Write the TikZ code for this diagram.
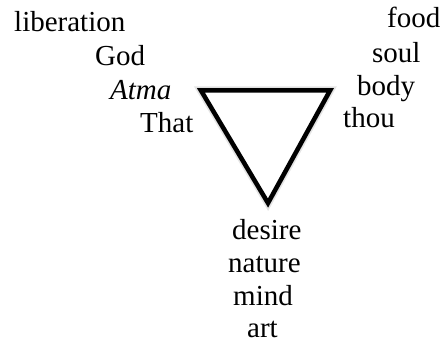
\documentclass[tikz,border=0pt]{standalone}
\usepackage{fontspec}
\setmainfont{Liberation Serif}
\usepackage{tikz}
\newcommand{\wordfont}{\fontsize{29}{35}\selectfont}

\begin{document}
\begin{tikzpicture}[x=1pt, y=1pt, word/.style={anchor=base west, inner sep=0pt, font=\wordfont}]
    \useasboundingbox (0,0) rectangle (442,345);

    \coordinate (TL) at (201,254.5);
    \coordinate (TR) at (330,254.5);
    \coordinate (Bot) at (268,142);

    \draw[line width=8pt, black!10, shift={(3,-4)}] (TL) -- (TR) -- (Bot) -- cycle;
    \draw[line width=5pt, black!25, shift={(2.5,-3)}] (TL) -- (TR) -- (Bot) -- cycle;
    \draw[line width=4.5pt, fill=white] (TL) -- (TR) -- (Bot) -- cycle;

    \begin{scope}
        \node[word] (liberation) at (14,313) {liberation};
        \node[word] (god) at (95,279) {God};
        \node[word] (atma) at (110,245) {\itshape Atma};
        \node[word] (that) at (140,212) {That};
    \end{scope}

    \begin{scope}
        \node[word] (food) at (387,317) {food};
        \node[word] (soul) at (372,282) {soul};
        \node[word] (body) at (357,249) {body};
        \node[word] (thou) at (343,217) {thou};
    \end{scope}

    \begin{scope}
        \node[word] (desire) at (232,105) {desire};
        \node[word] (nature) at (228,72) {nature};
        \node[word] (mind) at (233,39) {mind};
        \node[word] (art) at (247,7) {art};
    \end{scope}
\end{tikzpicture}
\end{document}
